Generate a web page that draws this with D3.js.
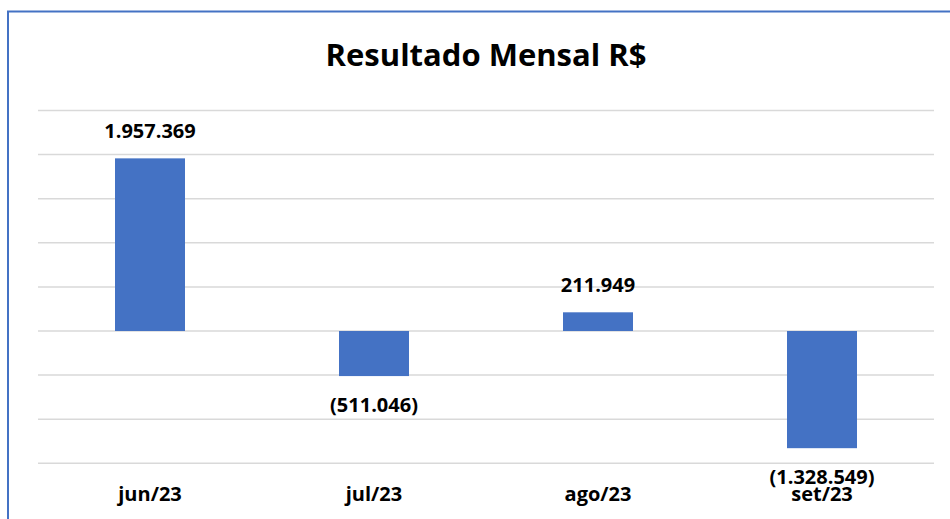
<!DOCTYPE html>
<html>
<head>
<meta charset="utf-8">
<script src="https://cdn.jsdelivr.net/npm/d3@7"></script>
<style>
  body { margin: 0; background: #fff; }
  svg text { font-family: "Open Sans", "Liberation Sans", sans-serif; font-weight: bold; fill: #000; }
</style>
</head>
<body>
<div id="chart"></div>
<script>
// data
var months = ["jun/23", "jul/23", "ago/23", "set/23"];
var resultado = [1957369, -511046, 211949, -1328549];
var gridValues = [-1500000, -1000000, -500000, 0, 500000, 1000000, 1500000, 2000000, 2500000];

var width = 950, height = 519;
var margin = { top: 110.5, right: 16, bottom: 55.7, left: 38 };

var svg = d3.select("#chart").append("svg")
  .attr("width", width)
  .attr("height", height);

// chart frame (only top and left edges are visible)
svg.append("path")
  .attr("d", "M8,519 V11.5 H950")
  .attr("fill", "none")
  .attr("stroke", "#4472c4")
  .attr("stroke-width", 2);

svg.append("text")
  .attr("x", 486)
  .attr("y", 66)
  .attr("text-anchor", "middle")
  .style("font-size", "31px")
  .text("Resultado Mensal R$");

var x = d3.scaleBand()
  .domain(months)
  .range([margin.left, width - margin.right])
  .padding(0);

var y = d3.scaleLinear()
  .domain([-1500000, 2500000])
  .range([height - margin.bottom, margin.top]);

// gridlines
svg.append("g")
  .selectAll("line")
  .data(gridValues)
  .enter().append("line")
  .attr("x1", x.range()[0])
  .attr("x2", x.range()[1])
  .attr("y1", function(d) { return y(d); })
  .attr("y2", function(d) { return y(d); })
  .attr("stroke", "#d9d9d9")
  .attr("stroke-width", 1.5);

var barW = x.bandwidth() * 0.3125;

svg.append("g")
  .selectAll("rect")
  .data(resultado)
  .enter().append("rect")
  .attr("x", function(d, i) { return x(months[i]) + (x.bandwidth() - barW) / 2; })
  .attr("y", function(d) { return y(Math.max(0, d)); })
  .attr("width", barW)
  .attr("height", function(d) { return Math.abs(y(d) - y(0)); })
  .attr("fill", "#4472c4");

function fmt(v) {
  var s = d3.format(",")(Math.abs(v)).replace(/,/g, ".");
  return v < 0 ? "(" + s + ")" : s;
}

// value labels
svg.append("g")
  .selectAll("text")
  .data(resultado)
  .enter().append("text")
  .attr("x", function(d, i) { return x(months[i]) + x.bandwidth() / 2; })
  .attr("y", function(d) { return d >= 0 ? y(d) - 20 : y(d) + 36; })
  .attr("text-anchor", "middle")
  .style("font-size", "20px")
  .text(fmt);

// category labels
svg.append("g")
  .selectAll("text")
  .data(months)
  .enter().append("text")
  .attr("x", function(d) { return x(d) + x.bandwidth() / 2; })
  .attr("y", 501)
  .attr("text-anchor", "middle")
  .style("font-size", "20px")
  .text(function(d) { return d; });
</script>
</body>
</html>
